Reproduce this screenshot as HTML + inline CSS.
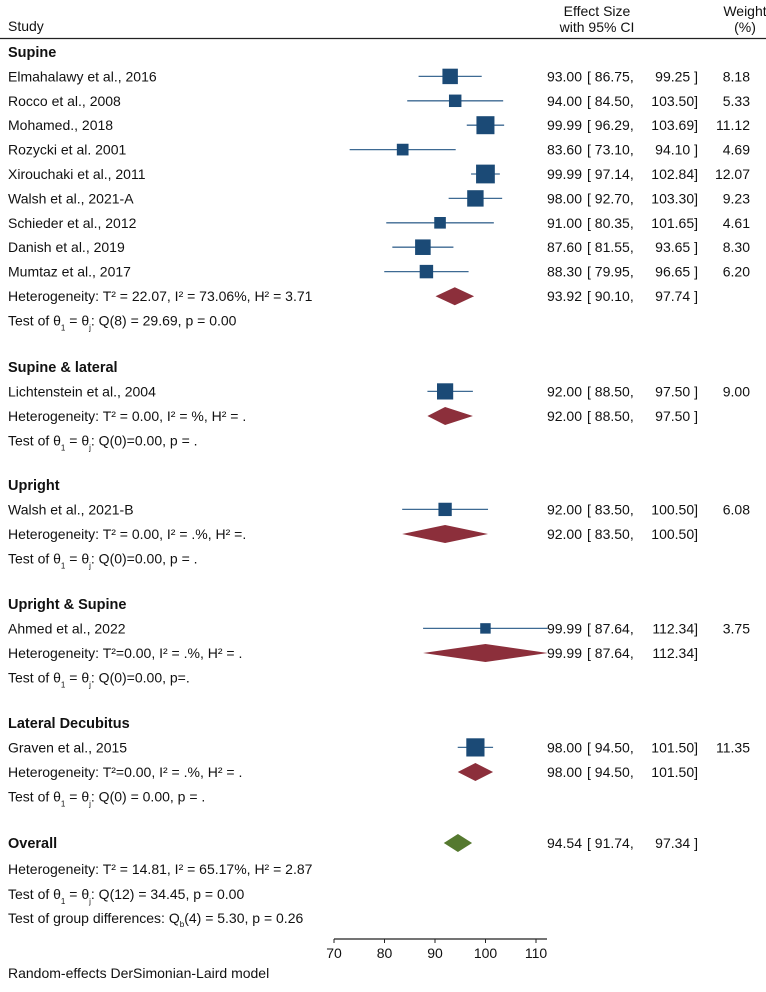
<!DOCTYPE html>
<html><head><meta charset="utf-8"><style>
html,body{margin:0;padding:0;background:#fff}
svg text{font-family:"Liberation Sans",sans-serif;font-size:14px;fill:#111}
.b{font-weight:bold;font-size:14.5px}
</style></head><body>
<svg id="chart" width="766" height="987" viewBox="0 0 766 987">
<text x="8" y="31">Study</text>
<text x="597" y="16" text-anchor="middle">Effect Size</text>
<text x="597" y="32" text-anchor="middle">with 95% CI</text>
<text x="745" y="16" text-anchor="middle">Weight</text>
<text x="745" y="32" text-anchor="middle">(%)</text>
<line x1="0" y1="38.5" x2="766" y2="38.5" stroke="#222" stroke-width="1.2"/>
<g id="rows"></g>
<g id="axis"></g>
<text x="8" y="978">Random-effects DerSimonian-Laird model</text>
</svg>
<script>
const groupNames=["Supine","Supine & lateral","Upright","Upright & Supine","Lateral Decubitus"];
const studyNames=["Elmahalawy et al., 2016","Rocco et al., 2008","Mohamed., 2018","Rozycki et al. 2001","Xirouchaki et al., 2011","Walsh et al., 2021-A","Schieder et al., 2012","Danish et al., 2019","Mumtaz et al., 2017","Lichtenstein et al., 2004","Walsh et al., 2021-B","Ahmed et al., 2022","Graven et al., 2015"];
const studyGroup=[0,0,0,0,0,0,0,0,0,1,2,3,4];
const est=[93.00,94.00,99.99,83.60,99.99,98.00,91.00,87.60,88.30,92.00,92.00,99.99,98.00];
const lo=[86.75,84.50,96.29,73.10,97.14,92.70,80.35,81.55,79.95,88.50,83.50,87.64,94.50];
const hi=[99.25,103.50,103.69,94.10,102.84,103.30,101.65,93.65,96.65,97.50,100.50,112.34,101.50];
const wts=[8.18,5.33,11.12,4.69,12.07,9.23,4.61,8.30,6.20,9.00,6.08,3.75,11.35];
const grpEst=[93.92,92.00,92.00,99.99,98.00];
const grpLo=[90.10,88.50,83.50,87.64,94.50];
const grpHi=[97.74,97.50,100.50,112.34,101.50];
const hetText=["Heterogeneity: T² = 22.07, I² = 73.06%, H² = 3.71","Heterogeneity: T² = 0.00, I² = %, H² = .","Heterogeneity: T² = 0.00, I² = .%, H² =.","Heterogeneity: T²=0.00, I² = .%, H² = .","Heterogeneity: T²=0.00, I² = .%, H² = ."];
const testText=[": Q(8) = 29.69, p = 0.00",": Q(0)=0.00, p = .",": Q(0)=0.00, p = .",": Q(0)=0.00, p=.",": Q(0) = 0.00, p = ."];
const overall=[94.54,91.74,97.34];
const ticks=[70,80,90,100,110];
const xMin=70,xMax=110;
const x=v=>334+(v-xMin)*(536-334)/(xMax-xMin);
const NS="http://www.w3.org/2000/svg";
const rows=document.getElementById('rows');
function mk(tag,attrs,txt){const e=document.createElementNS(NS,tag);for(const k in attrs)e.setAttribute(k,attrs[k]);if(txt!==undefined)e.textContent=txt;rows.appendChild(e);return e;}
function ciText(y,e,l,h,w,nm){
 let t=mk('text',{x:582,y:y+5,'text-anchor':'end'},e.toFixed(2));
 t=mk('text',{x:587,y:y+5},'[ '+l.toFixed(2)+',');
 t=mk('text',{x:698,y:y+5,'text-anchor':'end'},h.toFixed(2)+(h<100?' ]':']'));
 if(w!==null){t=mk('text',{x:750,y:y+5,'text-anchor':'end'},w.toFixed(2));}
}
function diamond(y,e,l,h,col,nm){
 const d=mk('polygon',{points:`${x(l)},${y} ${x(e)},${y-9} ${x(h)},${y} ${x(e)},${y+9}`,fill:col});
 
}
function testLine(y,suffix,nm){
 const t=mk('text',{x:8,y:y+5});
 
 const parts=[['Test of θ',0],['1',1],[' =  θ',0],['j',1],[suffix,0]];
 parts.forEach(p=>{const s=document.createElementNS(NS,'tspan');s.textContent=p[0];if(p[1]){s.setAttribute('dy','5');s.setAttribute('font-size','8');}else if(t.childNodes.length){s.setAttribute('dy','-5');}t.appendChild(s);});
}
const groupStartY=[52,367,485,604,723];
groupNames.forEach((g,gi)=>{
 let y=groupStartY[gi];
 let t=mk('text',{x:8,y:y+5,class:'b'},g);
 const idx=studyGroup.map((s,i)=>s===gi?i:-1).filter(i=>i>=0);
 idx.forEach(i=>{
  y+=24.4;
  t=mk('text',{x:8,y:y+5},studyNames[i]);
  const ln=mk('line',{x1:x(lo[i]),y1:y,x2:x(hi[i]),y2:y,stroke:'#3e6a93','stroke-width':1.3});
  
  const s=5.4*Math.sqrt(wts[i]);
  const r=mk('rect',{x:x(est[i])-s/2,y:y-s/2,width:s,height:s,fill:'#1b4a76'});
  
  ciText(y,est[i],lo[i],hi[i],wts[i],'study');
 });
 y+=24.6;
 t=mk('text',{x:8,y:y+5},hetText[gi]);
 diamond(y,grpEst[gi],grpLo[gi],grpHi[gi],'#8c2f3b','group-diamond');
 ciText(y,grpEst[gi],grpLo[gi],grpHi[gi],null,'group');
 y+=24.4;
 testLine(y,testText[gi],'homogeneity-test');
});
let t=mk('text',{x:8,y:848,class:'b'},'Overall');
diamond(843,overall[0],overall[1],overall[2],'#55792f','overall-diamond');
ciText(843,overall[0],overall[1],overall[2],null,'overall');
t=mk('text',{x:8,y:874},'Heterogeneity: T² = 14.81, I² = 65.17%, H² = 2.87');
testLine(894,': Q(12) = 34.45, p = 0.00','overall-test');
t=mk('text',{x:8,y:923},'Test of group differences: Q');
const sb=document.createElementNS(NS,'tspan');sb.textContent='b';sb.setAttribute('dy','4');sb.setAttribute('font-size','8');t.appendChild(sb);
const sr=document.createElementNS(NS,'tspan');sr.textContent='(4) = 5.30, p = 0.26';sr.setAttribute('dy','-4');t.appendChild(sr);
const ax=document.getElementById('axis');
const al=document.createElementNS(NS,'line');
al.setAttribute('x1',x(xMin));al.setAttribute('x2',547);al.setAttribute('y1',939);al.setAttribute('y2',939);al.setAttribute('stroke','#222');al.setAttribute('stroke-width','1.2');


ax.appendChild(al);
ticks.forEach(v=>{
 const tk=document.createElementNS(NS,'line');
 tk.setAttribute('x1',x(v));tk.setAttribute('x2',x(v));tk.setAttribute('y1',939);tk.setAttribute('y2',943);tk.setAttribute('stroke','#222');
 
 
 ax.appendChild(tk);
 const lb=document.createElementNS(NS,'text');
 lb.setAttribute('x',x(v));lb.setAttribute('y',958);lb.setAttribute('text-anchor','middle');lb.textContent=v;
 
 
 ax.appendChild(lb);
});
</script>
</body></html>
